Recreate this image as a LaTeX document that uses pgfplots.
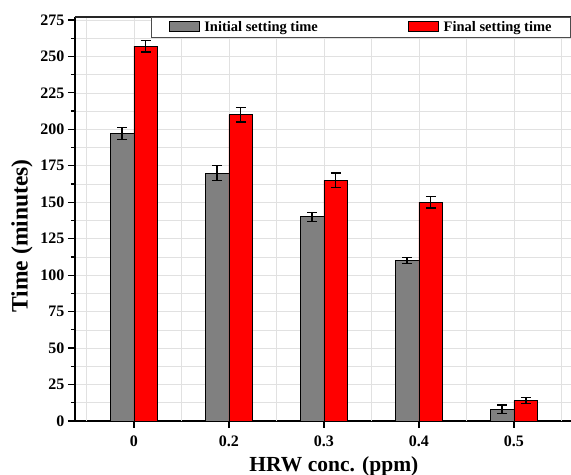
\documentclass[border=0pt]{standalone}
\usepackage{pgfplots}
\pgfplotsset{compat=1.18}
\usepackage{fontspec}
\setmainfont{Liberation Serif}
\definecolor{bargray}{RGB}{128,128,128}
\definecolor{barred}{RGB}{255,0,0}
\definecolor{gridgray}{RGB}{225,225,225}
\begin{document}
\begin{tikzpicture}[x=1pt,y=1pt]
\begin{axis}[
  scale only axis,
  width=496pt, height=404pt,
  xmin=-0.62, xmax=4.6,
  ymin=0, ymax=277,
  ybar,
  bar width=0.25,
  axis x line*=bottom,
  axis y line*=left,
  axis line style={line width=1.4pt, black, -},
  xtick={0,1,2,3,4},
  xticklabels={0,0.2,0.3,0.4,0.5},
  extra x ticks={-0.5,0.5,1.5,2.5,3.5,4.5},
  extra x tick labels={},
  extra x tick style={grid=major, tick style={draw=none}},
  ytick={0,25,...,275},
  minor y tick num=1,
  tick align=outside,
  major tick length=7pt,
  minor tick length=4pt,
  tick style={line width=1.2pt, black},
  ymajorgrids, yminorgrids, xmajorgrids,
  major grid style={gridgray, line width=0.6pt},
  minor grid style={gridgray, line width=0.6pt},
  /pgf/number format/assume math mode=true,
  ticklabel style={font=\fontsize{16}{18}\selectfont\bfseries},
  xticklabel style={yshift=-4pt},
  xlabel={HRW conc. (ppm)},
  ylabel={Time (minutes)},
  xlabel style={font=\fontsize{21.5}{24}\selectfont\bfseries, at={(rel axis cs:0.522,0)}, anchor=center, yshift=-45pt},
  ylabel style={font=\fontsize{23.5}{26}\selectfont\bfseries, at={(rel axis cs:0,0.458)}, anchor=center, yshift=53pt},
  legend columns=2,
  legend style={at={(rel axis cs:1,1)}, anchor=north east, draw=black!70, line width=0.8pt,
    font=\fontsize{14.5}{16}\selectfont\bfseries, inner xsep=17pt, inner ysep=2pt,
    /tikz/every odd column/.style={column sep=3pt},
    /tikz/column 2/.style={column sep=88pt}},
  legend image code/.code={\draw[#1, line width=0.8pt] (0pt,-4.5pt) rectangle (30pt,5.5pt);},
  error bars/y dir=both,
  error bars/y explicit,
  error bars/error bar style={line width=1.3pt, black},
  error bars/error mark options={rotate=90, mark size=5pt, line width=1.3pt, black},
]
\addplot[fill=bargray, draw=black, line width=0.8pt, bar shift=-0.125]
  coordinates {(0,197) +- (0,4) (1,170) +- (0,5) (2,140) +- (0,3) (3,110) +- (0,2) (4,8) +- (0,3)};
\addlegendentry{Initial setting time}
\addplot[fill=barred, draw=black, line width=0.8pt, bar shift=0.125]
  coordinates {(0,257) +- (0,4) (1,210) +- (0,5) (2,165) +- (0,5) (3,150) +- (0,4) (4,14) +- (0,2)};
\addlegendentry{Final setting time}
\coordinate (ll) at (rel axis cs:0,0);
\coordinate (ur) at (rel axis cs:1,1);
\draw[line width=1.6pt, black!85] (rel axis cs:0,1) -- (rel axis cs:1,1);
\end{axis}
\pgfresetboundingbox
\path ([xshift=-75pt,yshift=-54pt]ll) rectangle ([yshift=17pt]ur);
\end{tikzpicture}
\end{document}
